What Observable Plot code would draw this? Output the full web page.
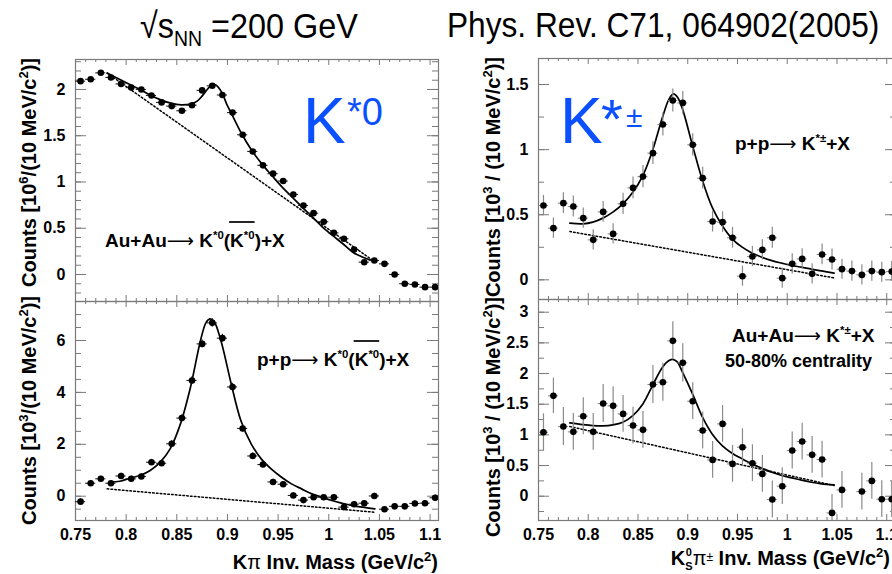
<!DOCTYPE html>
<html><head><meta charset="utf-8">
<script src="https://cdn.jsdelivr.net/npm/d3@7"></script>
<script src="https://cdn.jsdelivr.net/npm/@observablehq/plot@0.6"></script>
<style>
html,body{margin:0;padding:0;background:#fff;}
body{width:892px;height:574px;overflow:hidden;}
#root{position:relative;width:892px;height:574px;overflow:hidden;background:#fff;}
#root > svg{position:absolute;}
</style></head><body><div id="root"></div>
<script>
const FONT = '"Liberation Sans", Arial, Helvetica, sans-serif';

// ---------- data ----------
const massBins = [0.755,0.765,0.775,0.785,0.795,0.805,0.815,0.825,0.835,0.845,0.855,0.865,0.875,0.885,0.895,0.905,0.915,0.925,0.935,0.945,0.955,0.965,0.975,0.985,0.995,1.005,1.015,1.025,1.035,1.045,1.055,1.065,1.075,1.085,1.095,1.105];
const massBinsBR = [0.755,0.765,0.775,0.785,0.795,0.805,0.815,0.825,0.835,0.845,0.855,0.865,0.875,0.885,0.895,0.905,0.915,0.925,0.935,0.945,0.955,0.965,0.975,0.985,0.995,1.005,1.015,1.025,1.035,1.045,1.055,1.075,1.085,1.095,1.105];

// Au+Au K*0 (10^6 counts)
const auauK0 = [2.09,2.11,2.18,2.13,2.06,2.02,2.00,1.935,1.86,1.82,1.77,1.83,1.99,2.04,1.94,1.75,1.51,1.33,1.18,1.09,1.01,0.865,0.746,0.663,0.57,0.45,0.386,0.27,0.133,0.151,0.115,0.0,-0.10,-0.108,-0.137,-0.137];
const auauK0Err = [0.015,0.015,0.015,0.015,0.015,0.015,0.015,0.015,0.015,0.015,0.015,0.015,0.015,0.015,0.015,0.015,0.015,0.015,0.015,0.015,0.015,0.015,0.015,0.015,0.015,0.015,0.015,0.015,0.015,0.015,0.015,0.015,0.015,0.015,0.015,0.015];
const auauK0FitX = [0.7813,0.7944,0.8043,0.8142,0.8244,0.8342,0.8441,0.8543,0.8642,0.8701,0.8741,0.8800,0.8843,0.8883,0.8942,0.8998,0.9041,0.9140,0.9240,0.9339,0.9438,0.9540,0.9639,0.9737,0.9839,0.9938,1.0037,1.0139,1.0237,1.0336,1.0445];
const auauK0FitY = [2.177,2.105,2.050,1.996,1.935,1.888,1.852,1.834,1.845,1.874,1.917,2.000,2.050,2.050,1.971,1.827,1.737,1.521,1.341,1.196,1.070,0.944,0.836,0.728,0.620,0.512,0.422,0.332,0.241,0.187,0.144];
const auauK0BgX = [0.7813,0.9129,1.0445];
const auauK0BgY = [2.177,1.160,0.144];

// p+p K*0 (10^3 counts)
const ppK0 = [-0.21,0.50,0.67,0.50,0.78,0.67,0.76,1.31,1.27,2.02,3.01,4.46,5.87,6.68,6.09,4.21,2.61,1.55,1.22,0.55,0.46,0.03,-0.15,-0.04,-0.04,-0.04,-0.42,-0.31,-0.27,0.01,-0.50,-0.39,-0.39,-0.28,-0.27,-0.06];
const ppK0Err = [0.1,0.1,0.1,0.1,0.1,0.1,0.1,0.11,0.11,0.12,0.13,0.14,0.15,0.16,0.15,0.14,0.13,0.12,0.11,0.1,0.1,0.1,0.1,0.1,0.1,0.1,0.1,0.1,0.1,0.1,0.1,0.1,0.1,0.1,0.1,0.1];
const ppK0FitX = [0.7839,0.7938,0.8037,0.8135,0.8237,0.8336,0.8434,0.8536,0.8635,0.8734,0.8787,0.8826,0.8866,0.8935,0.9033,0.9132,0.9234,0.9333,0.9431,0.9534,0.9632,0.9731,0.9833,0.9932,1.0030,1.0132,1.0231,1.0330,1.0455];
const ppK0FitY = [0.540,0.578,0.694,0.797,0.989,1.311,1.824,2.788,4.201,6.000,6.681,6.835,6.745,6.000,4.394,2.917,2.017,1.439,1.054,0.732,0.475,0.283,0.090,-0.039,-0.167,-0.270,-0.360,-0.424,-0.488];
const ppK0BgX = [0.7813,0.9134,1.0455];
const ppK0BgY = [0.283,-0.167,-0.617];

// p+p K*± (10^3 counts)
const ppKc = [0.571,0.397,0.589,0.563,0.474,0.307,0.522,0.353,0.584,0.706,0.793,0.973,1.193,1.377,1.359,1.037,0.781,0.448,0.443,0.323,0.028,0.179,0.230,0.323,0.013,0.123,0.161,0.046,0.195,0.156,0.082,0.067,0.038,0.067,0.059,0.064];
const ppKcErr = [0.078,0.078,0.08,0.08,0.078,0.078,0.08,0.078,0.082,0.084,0.085,0.087,0.088,0.088,0.088,0.085,0.083,0.08,0.08,0.08,0.077,0.078,0.078,0.08,0.077,0.078,0.078,0.077,0.08,0.08,0.077,0.077,0.077,0.077,0.077,0.077];
const ppKcFitX = [0.7815,0.7946,0.8046,0.8147,0.8247,0.8348,0.8448,0.8549,0.8646,0.8746,0.8813,0.8857,0.8897,0.8947,0.9048,0.9148,0.9245,0.9346,0.9446,0.9547,0.9644,0.9745,0.9845,0.9946,1.0046,1.0143,1.0244,1.0344,1.0471];
const ppKcFitY = [0.435,0.430,0.443,0.474,0.520,0.584,0.673,0.801,0.993,1.249,1.390,1.428,1.403,1.313,1.031,0.763,0.558,0.417,0.315,0.251,0.207,0.174,0.148,0.128,0.110,0.097,0.082,0.069,0.051];
const ppKcBgX = [0.7815,0.9143,1.0471];
const ppKcBgY = [0.371,0.193,0.015];

// Au+Au K*± 50-80% (10^3 counts)
const auauKc = [1.043,1.636,1.136,1.049,1.304,1.049,1.511,1.473,1.342,1.152,1.082,1.821,1.859,2.533,2.174,1.549,1.071,0.592,1.179,0.527,0.799,0.538,0.364,-0.054,0.163,0.745,0.891,0.674,0.598,-0.272,0.103,0.076,0.25,-0.049,-0.049];
const auauKcErr = [0.30,0.29,0.31,0.30,0.30,0.30,0.31,0.31,0.30,0.30,0.30,0.31,0.31,0.31,0.31,0.30,0.30,0.30,0.30,0.30,0.30,0.30,0.30,0.30,0.30,0.30,0.30,0.30,0.30,0.30,0.30,0.30,0.30,0.30,0.30];
const auauKcFitX = [0.7815,0.7946,0.8046,0.8147,0.8247,0.8348,0.8448,0.8549,0.8646,0.8746,0.8813,0.8857,0.8897,0.8947,0.9048,0.9148,0.9245,0.9346,0.9446,0.9547,0.9644,0.9745,0.9845,0.9946,1.0046,1.0143,1.0244,1.0344,1.0471];
const auauKcFitY = [1.196,1.168,1.152,1.147,1.163,1.207,1.315,1.505,1.804,2.103,2.212,2.228,2.185,2.022,1.668,1.288,1.016,0.826,0.701,0.609,0.527,0.457,0.391,0.337,0.299,0.261,0.228,0.201,0.185];
const auauKcBgX = [0.7815,0.9143,1.0471];
const auauKcBgY = [1.136,0.655,0.174];

// tick labels
const xTicks = [0.75,0.8,0.85,0.9,0.95,1,1.05,1.1];
const yTicksTL = [0,0.5,1,1.5,2];
const yTicksBL = [0,2,4,6];
const yTicksTR = [0,0.5,1,1.5];
const yTicksBR = [0,0.5,1,1.5,2,2.5,3];

// ---------- drawing ----------
const root = document.getElementById("root");
const AX = "#7a7a7a";
const xMinor = d3.range(75, 111).map(i => i / 100);
const xMinorTicks = xMinor.filter(v => !xTicks.some(t => Math.abs(t - v) < 1e-9));

function panel(c) {
  const rows = c.mass.map((m, i) => ({m, v: c.vals[i], e: c.errs[i]}));
  const fit = c.fitX.map((x, i) => ({x, y: c.fitY[i]}));
  const bg = c.bgX.map((x, i) => ({x, y: c.bgY[i]}));
  const fw = c.fw, fh = c.fh;
  const marks = [
    Plot.tickX(xMinorTicks, {x: d => d, insetTop: fh - 3, stroke: AX}),
    Plot.tickX(xTicks, {x: d => d, insetTop: fh - 6, stroke: AX}),
    Plot.tickX(xMinorTicks, {x: d => d, insetBottom: fh - 3, stroke: AX}),
    Plot.tickX(xTicks, {x: d => d, insetBottom: fh - 6, stroke: AX}),
    Plot.tickY(c.yMinor, {y: d => d, insetRight: fw - 6, stroke: AX}),
    Plot.tickY(c.yTicks, {y: d => d, insetRight: fw - 11, stroke: AX}),
    Plot.tickY(c.yMinor, {y: d => d, insetLeft: fw - 6, stroke: AX}),
    Plot.tickY(c.yTicks, {y: d => d, insetLeft: fw - 11, stroke: AX}),
    Plot.frame({stroke: AX, strokeWidth: 1.2}),
    Plot.axisY(c.yTicks, {tickSize: 0, tickPadding: 10, tickFormat: d => String(d), label: null}),
    Plot.line(bg, {x: "x", y: "y", stroke: "#000", strokeWidth: 1.5, strokeDasharray: "1.6,2.2"}),
    Plot.line(fit, {x: "x", y: "y", curve: "catmull-rom", stroke: "#000", strokeWidth: 1.7}),
    Plot.ruleX(rows, {x: "m", y1: d => d.v - d.e, y2: d => d.v + d.e, stroke: c.errColor, strokeWidth: 1.2, clip: true}),
    Plot.ruleY(rows, {y: "v", x1: d => d.m - 0.005, x2: d => d.m + 0.005, stroke: c.errColor, strokeWidth: 1.1, clip: true}),
    Plot.dot(rows, {x: "m", y: "v", r: 3.3, fill: "#000", clip: true})
  ];
  if (c.xLabels) marks.push(Plot.axisX(xTicks, {tickSize: 0, tickPadding: 8, tickFormat: d => String(d), label: null}));
  const svg = Plot.plot({
    width: c.mL + fw + c.mR, height: c.mT + fh + c.mB,
    marginLeft: c.mL, marginRight: c.mR, marginTop: c.mT, marginBottom: c.mB,
    x: {domain: c.xDom, axis: c.xLabels ? undefined : null},
    y: {domain: c.yDom},
    style: {fontFamily: FONT, fontSize: "16px", fontWeight: "bold", color: "#000", background: "transparent", overflow: "visible"},
    marks
  });
  svg.style.left = c.left + "px";
  svg.style.top = c.top + "px";
  root.appendChild(svg);
}

const xDomL = [0.75, 1.1083];
const xDomR = [0.75, 1.1098];
panel({left: 0, top: 50, mL: 75, mT: 9, mR: 10, mB: 4, fw: 363, fh: 242, xDom: xDomL, yDom: [-0.292, 2.324],
  yTicks: yTicksTL, yMinor: d3.range(-2, 24).map(i => i / 10), xLabels: false,
  mass: massBins, vals: auauK0, errs: auauK0Err, fitX: auauK0FitX, fitY: auauK0FitY, bgX: auauK0BgX, bgY: auauK0BgY, errColor: "#222"});
panel({left: 0, top: 299, mL: 75, mT: 2, mR: 10, mB: 34, fw: 363, fh: 219, xDom: xDomL, yDom: [-0.936, 7.503],
  yTicks: yTicksBL, yMinor: d3.range(-1, 16).map(i => i / 2), xLabels: true,
  mass: massBins, vals: ppK0, errs: ppK0Err, fitX: ppK0FitX, fitY: ppK0FitY, bgX: ppK0BgX, bgY: ppK0BgY, errColor: "#222"});
panel({left: 448, top: 50, mL: 90, mT: 8, mR: 10, mB: 4, fw: 358, fh: 241, xDom: xDomR, yDom: [-0.151, 1.70],
  yTicks: yTicksTR, yMinor: d3.range(0, 7).map(i => i / 4), xLabels: false,
  mass: massBins, vals: ppKc, errs: ppKcErr, fitX: ppKcFitX, fitY: ppKcFitY, bgX: ppKcBgX, bgY: ppKcBgY, errColor: "#8a8a8a"});
panel({left: 448, top: 297, mL: 90, mT: 2, mR: 10, mB: 34, fw: 358, fh: 221, xDom: xDomR, yDom: [-0.396, 3.207],
  yTicks: yTicksBR, yMinor: d3.range(-1, 13).map(i => i / 4), xLabels: true,
  mass: massBinsBR, vals: auauKc, errs: auauKcErr, fitX: auauKcFitX, fitY: auauKcFitY, bgX: auauKcBgX, bgY: auauKcBgY, errColor: "#8a8a8a"});

// ---------- text overlay ----------
const ov = d3.select(root).append("svg").attr("width", 892).attr("height", 574)
  .style("left", "0px").style("top", "0px").style("pointer-events", "none")
  .attr("font-family", FONT);

function rich(x, y, parts, o) {
  const t = ov.append("text").attr("x", x).attr("y", y)
    .attr("font-size", o.size).attr("font-weight", o.weight || "bold")
    .attr("fill", o.fill || "#000").attr("text-anchor", o.anchor || "start");
  let tr = "";
  if (o.rotate) tr += `rotate(-90 ${x} ${y})`;
  if (o.sx) tr += ` translate(${x} ${y}) scale(${o.sx} 1) translate(${-x} ${-y})`;
  if (tr) t.attr("transform", tr);
  let shift = 0;
  for (const p of parts) {
    const k = p.k || "n";
    const fs = k === "n" ? o.size : o.size * (p.s || 0.62);
    const target = k === "sup" ? -o.size * (p.up || 0.42) : k === "sub" ? o.size * (p.down || 0.28) : 0;
    const ts = t.append("tspan").attr("dy", (target - shift).toFixed(2)).attr("font-size", fs).text(p.t);
    if (p.dx) ts.attr("dx", p.dx);
    if (p.w) ts.attr("font-weight", p.w);
    if (p.f) ts.attr("font-family", p.f);
    shift = target;
  }
  return t;
}
function overline(t, i0, i1, yOff, size) {
  const n = t.node();
  const a = n.getStartPositionOfChar(i0), b = n.getEndPositionOfChar(i1);
  ov.append("line").attr("x1", a.x - 1).attr("x2", b.x).attr("y1", +t.attr("y") - yOff).attr("y2", +t.attr("y") - yOff)
    .attr("stroke", "#000").attr("stroke-width", size * 0.09);
}

// header
rich(140, 38, [{t: "\u221As"}, {t: "NN", k: "sub", s: 0.6, down: 0.22}, {t: " =200 GeV"}], {size: 36, weight: "normal", sx: 0.9});
rich(447, 37, [{t: "Phys. Rev. C71, 064902(2005)"}], {size: 35, weight: "normal", sx: 0.905});

// big blue labels
const BLUE = "#0a50ff";
rich(303, 143, [{t: "K"}], {size: 64, weight: "normal", fill: BLUE});
rich(347, 125, [{t: "*0"}], {size: 38, weight: "normal", fill: BLUE});
rich(560, 143, [{t: "K"}], {size: 64, weight: "normal", fill: BLUE});
rich(601, 138, [{t: "*"}], {size: 56, weight: "normal", fill: BLUE});
rich(626, 127, [{t: "\u00B1"}], {size: 30, weight: "normal", fill: BLUE});

// reaction labels
const arrow = {t: "\u27F6", w: "normal", f: '"DejaVu Sans", sans-serif'};
let t1 = rich(105, 247, [{t: "Au+Au"}, arrow, {t: " K"}, {t: "*0", k: "sup", s: 0.6}, {t: "(K"}, {t: "*0", k: "sup", s: 0.6}, {t: ")+X"}], {size: 19});
overline(t1, 11, 13, 25, 19);
let t2 = rich(257, 366, [{t: "p+p"}, arrow, {t: " K"}, {t: "*0", k: "sup", s: 0.6}, {t: "(K"}, {t: "*0", k: "sup", s: 0.6}, {t: ")+X"}], {size: 19});
overline(t2, 9, 11, 25, 19);
rich(735, 150, [{t: "p+p"}, arrow, {t: " K"}, {t: "*\u00B1", k: "sup", s: 0.6}, {t: "+X"}], {size: 19});
rich(732, 342, [{t: "Au+Au"}, arrow, {t: " K"}, {t: "*\u00B1", k: "sup", s: 0.6}, {t: "+X"}], {size: 19});
rich(725, 367, [{t: "50-80% centrality"}], {size: 18});

// axis titles
rich(36, 58, [{t: "Counts [10"}, {t: "6", k: "sup", s: 0.65}, {t: "/(10 MeV/c"}, {t: "2", k: "sup", s: 0.65}, {t: ")]"}], {size: 20, rotate: true, anchor: "end"});
rich(36, 296, [{t: "Counts [10"}, {t: "3", k: "sup", s: 0.65}, {t: "/(10 MeV/c"}, {t: "2", k: "sup", s: 0.65}, {t: ")]"}], {size: 20, rotate: true, anchor: "end"});
rich(500, 57, [{t: "Counts [10"}, {t: "3", k: "sup", s: 0.65}, {t: " / (10 MeV/c"}, {t: "2", k: "sup", s: 0.65}, {t: ")]"}], {size: 20, rotate: true, anchor: "end"});
rich(500, 297, [{t: "Counts [10"}, {t: "3", k: "sup", s: 0.65}, {t: " / (10 MeV/c"}, {t: "2", k: "sup", s: 0.65}, {t: ")]"}], {size: 20, rotate: true, anchor: "end"});
rich(438, 569, [{t: "K"}, {t: "\u03C0", w: "normal"}, {t: " Inv. Mass (GeV/c"}, {t: "2", k: "sup", s: 0.65}, {t: ")"}], {size: 20, anchor: "end"});
// K_S^0 pi^± title: superscript 0 drawn as its own text above the S subscript
const kt = rich(890, 565, [{t: "K"}, {t: "S", k: "sub", s: 0.55, down: 0.24}, {t: "\u03C0", w: "normal"}, {t: "\u00B1", k: "sup", s: 0.6, up: 0.2, w: "normal"}, {t: " Inv. Mass (GeV/c"}, {t: "2", k: "sup", s: 0.65}, {t: ")"}], {size: 20, anchor: "end"});
const sPos = kt.node().getStartPositionOfChar(1);
rich(sPos.x + 0.5, 565 - 9, [{t: "0"}], {size: 11});
</script>
</body></html>
